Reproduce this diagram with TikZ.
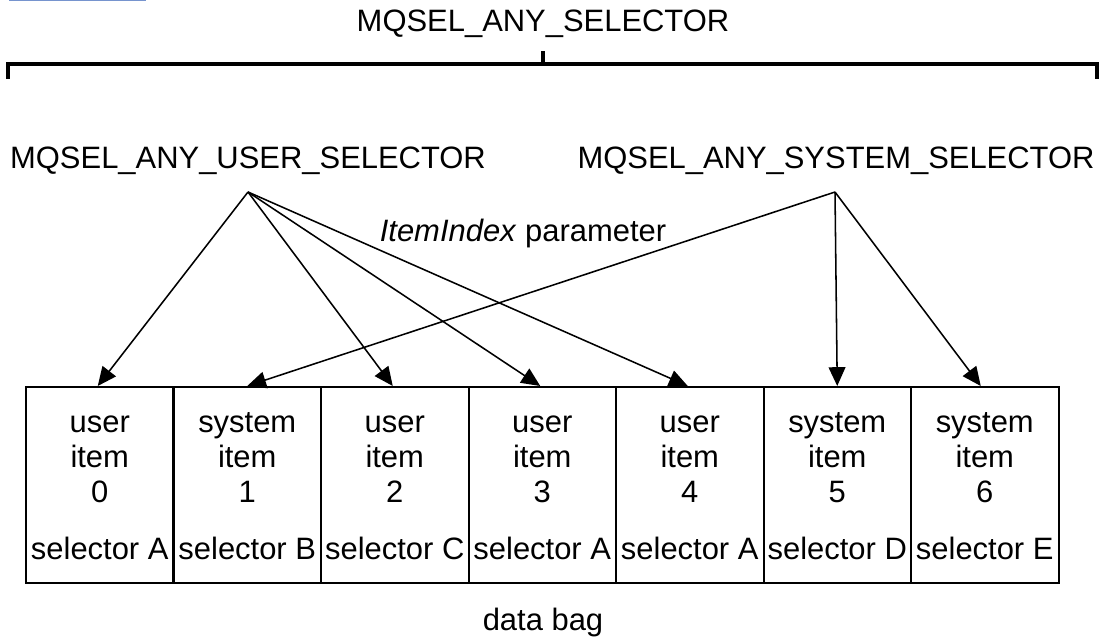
\documentclass[tikz,border=0pt]{standalone}
\usepackage{fontspec}
\setmainfont{Liberation Sans}
\usepackage{tikz}
\usetikzlibrary{arrows.meta,positioning}
\definecolor{linkblue}{RGB}{118,148,206}
\newcommand{\bagfont}{\fontsize{22}{24.9}\selectfont}
\newcommand{\topstrut}{\rule{0pt}{23pt}}
\tikzstyle{arrow} = [line width=1.1pt,-{Triangle[length=0.47cm,width=0.42cm]}]
\tikzstyle{cell} = [draw,line width=1.4pt,minimum width=3.6875cm,minimum height=4.9cm,inner sep=0pt,align=center]
\tikzstyle{brace} = [line width=3.4pt,line cap=rect]

\begin{document}
\begin{tikzpicture}[x=0.025cm,y=-0.025cm,every node/.style={font=\bagfont,inner sep=0pt}]
            \useasboundingbox (0,0) rectangle (1100,640);
            \draw[linkblue,line width=1pt] (9,0.6) -- (146,0.6);
            % top brace
            \node (anysel) at (543,24) {MQSEL\_ANY\_SELECTOR};
            \draw[brace] (8,77) -- (8,64) -- (1097,64) -- (1097,77);
            \draw[brace] (543,64) -- (543,53);
            % selector labels
            \node (usrsel) at (248,161) {MQSEL\_ANY\_USER\_SELECTOR};
            \node (syssel) at (836,161) {MQSEL\_ANY\_SYSTEM\_SELECTOR};
            \coordinate (usrpt) at (248,192);
            \coordinate (syspt) at (835,192);
            \node (idx) at (523,233) {\textit{ItemIndex} parameter};
            % data bag items
            \foreach \i/\kind/\sel in {0/user/A,1/system/B,2/user/C,3/user/A,4/user/A,5/system/D,6/system/E}
                \node[cell] (b\i) at ({99.75+147.5*\i},485) {\topstrut\kind\\item\\\i\\[0.55cm]selector \sel\strut};
            \node (bag) at (543,622) {data bag};
            % arrows
            \foreach \j in {0,2,3,4}
                \draw[arrow] (usrpt) -- ([xshift=-0.05cm]b\j.north);
            \foreach \j in {1,5}
                \draw[arrow] (syspt) -- (b\j.north);
            \draw[arrow] (syspt) -- ([xshift=-0.1cm]b6.north);
        \end{tikzpicture}
\end{document}
